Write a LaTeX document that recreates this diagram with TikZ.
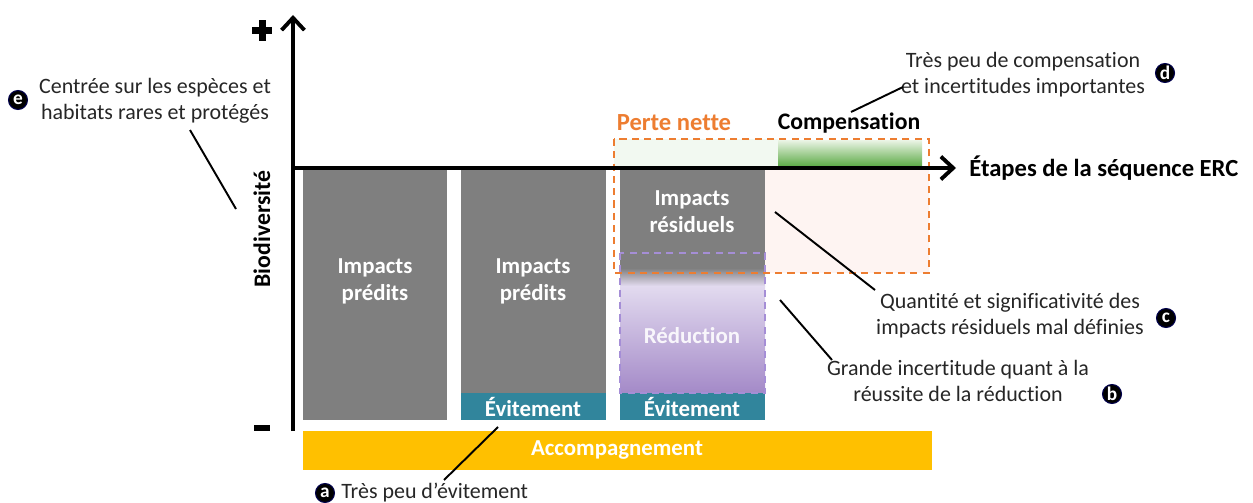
\documentclass[tikz,border=0pt]{standalone}
\usepackage{fontspec}
\setmainfont{Carlito}[Ligatures={NoCommon,NoContextual,NoRequired}, Contextuals={NoAlternate}]
\usetikzlibrary{arrows.meta}
\definecolor{barg}{HTML}{7F7F7F}
\definecolor{teal}{HTML}{31859C}
\definecolor{yel}{HTML}{FFC000}
\definecolor{org}{HTML}{ED7D31}
\definecolor{lav}{HTML}{E2DAEF}
\definecolor{purp}{HTML}{A48AC8}
\definecolor{purpd}{HTML}{A58ED6}
\definecolor{pink}{HTML}{FEF4F2}
\definecolor{palegreen}{HTML}{F2F9F1}
\definecolor{grtop}{HTML}{E6F2E0}
\definecolor{grbot}{HTML}{5EAB48}
\definecolor{txt}{HTML}{262626}
\tikzset{
  barlbl/.style={font=\fontsize{13}{15.3}\selectfont\bfseries, text=white, align=center, inner sep=0pt},
  note/.style={font=\fontsize{12.5}{14.8}\selectfont, align=center, text=txt, inner sep=0pt},
  badge/.style={circle, fill=black, draw=black!70!blue, line width=0.6pt, text=white, font=\fontsize{11}{11}\selectfont\bfseries, minimum size=0.38cm, inner sep=0pt},
  lead/.style={line width=1.1pt, black},
  axisline/.style={line width=2.4pt, -{Straight Barb[length=7pt,width=13pt,line width=2.2pt]}},
}
\begin{document}
\begin{tikzpicture}[x=0.02cm,y=-0.02cm]
\useasboundingbox (0,0) rectangle (1253,503);
% background fills of net loss zone
\fill[pink] (765,170) rectangle (929,273);
\fill[palegreen] (614,139) rectangle (778,166);
\shade[top color=grtop, bottom color=grbot] (778,141) rectangle (922,166);
% bar 1
\fill[barg] (303,170) rectangle (447,420);
\node[barlbl] (ip1) at (375,281) {Impacts\\prédits};
% bar 2
\fill[barg] (461,170) rectangle (606,393);
\fill[teal] (461,393) rectangle (606,420);
\node[barlbl] (ip2) at (533,281) {Impacts\\prédits};
\node[barlbl] (ev2) at (533,407) {Évitement};
% bar 3
\fill[barg] (620,170) rectangle (765,268);
\shade[top color=barg, bottom color=lav] (620,268) rectangle (765,286);
\shade[top color=lav, bottom color=purp] (620,286) rectangle (765,393);
\fill[teal] (620,393) rectangle (765,420);
\draw[purpd, line width=1pt, dash pattern=on 4pt off 3pt] (620,253) rectangle (765,393);
\node[barlbl] (ir) at (692,212) {Impacts\\résiduels};
\node[barlbl, text=white!92!purp] (red) at (692,336) {Réduction};
\node[barlbl] (ev3) at (692,407) {Évitement};
% accompagnement
\fill[yel] (303,431) rectangle (932,470);
\node[barlbl] (acc) at (617,450) {Accompagnement};
% net loss dashed box
\draw[org, line width=1.1pt, dash pattern=on 4pt off 3pt] (614,139) rectangle (929,273);
\node[font=\fontsize{14}{15}\selectfont\bfseries, text=org, inner sep=0pt] (pn) at (674,123) {Perte nette};
\node[font=\fontsize{13.5}{15}\selectfont\bfseries, text=black, inner sep=0pt] (comp) at (849,123) {Compensation};
% axes
\draw[axisline] (293,431) -- (293,15);
\draw[axisline] (291,168) -- (956,168);
\node[font=\fontsize{14}{16}\selectfont\bfseries, anchor=west, inner sep=0pt] (xl) at (969,168) {Étapes de la séquence ERC};
\node[font=\fontsize{13.5}{15}\selectfont\bfseries, rotate=90, inner sep=0pt] (yl) at (262,229) {Biodiversité};
% plus / minus
\fill[black] (252,27) rectangle (272,34);
\fill[black] (258.5,20) rectangle (265.5,41);
\fill[black] (254,425) rectangle (270,431);
% annotations
\node[note] (nd) at (1023,75) {Très peu de compensation\\et incertitudes importantes};
\node[badge] (bd) at (1165,73) {d};
\node[note] (ne) at (155,101) {Centrée sur les espèces et\\habitats rares et protégés};
\node[badge] (be) at (18,100) {e};
\node[note] (nc) at (1010,316) {Quantité et significativité des\\impacts résiduels mal définies};
\node[badge] (bc) at (1166,318) {c};
\node[note] (nb) at (958,381) {Grande incertitude quant à la\\réussite de la réduction};
\node[badge] (bb) at (1112,394) {b};
\node[note, anchor=west] (na) at (341,493) {Très peu d’évitement};
\node[badge] (ba) at (325,493) {a};
% leaders
\coordinate (ld1) at (851,112); \coordinate (ld2) at (903,87);
\coordinate (le1) at (190,130); \coordinate (le2) at (236,209);
\coordinate (lc1) at (775,212); \coordinate (lc2) at (875,290);
\coordinate (lb1) at (780,300); \coordinate (lb2) at (832,360);
\coordinate (la1) at (498,427); \coordinate (la2) at (444,480);
\draw[lead] (ld1) -- (ld2);
\draw[lead] (le1) -- (le2);
\draw[lead] (lc1) -- (lc2);
\draw[lead] (lb1) -- (lb2);
\draw[lead] (la1) -- (la2);
\end{tikzpicture}
\end{document}
